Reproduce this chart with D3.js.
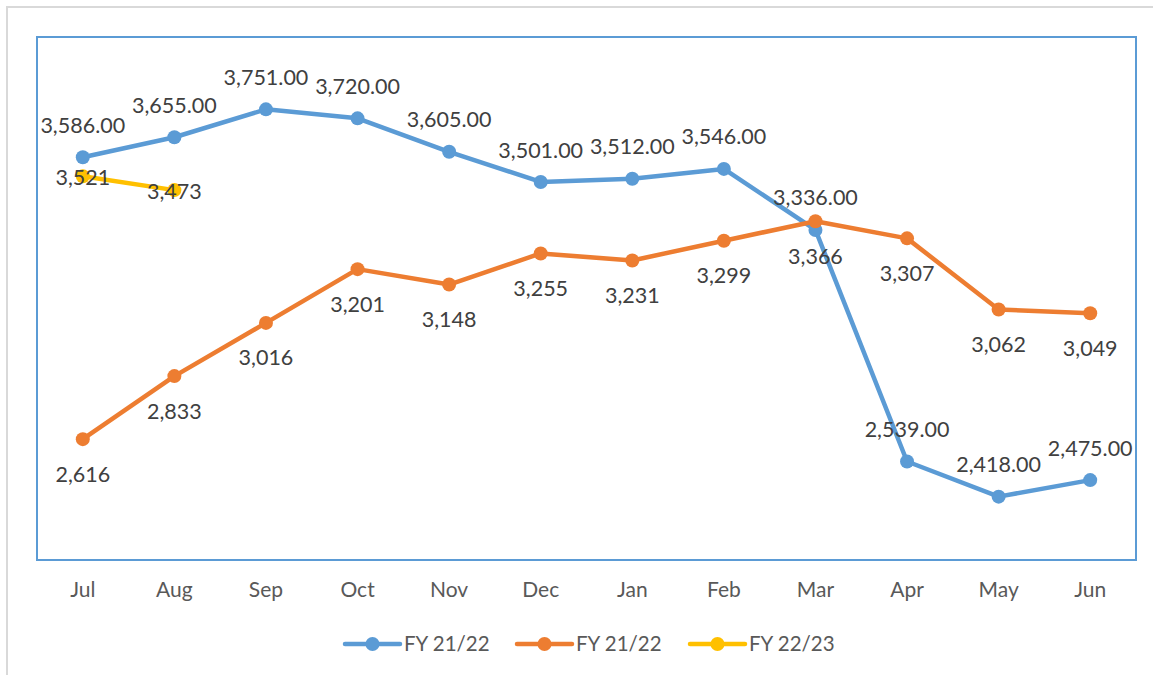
<!DOCTYPE html>
<html>
<head>
<meta charset="utf-8">
<script src="https://cdn.jsdelivr.net/npm/d3@7"></script>
<style>
  body { margin: 0; background: #fff; }
  svg { display: block; font-family: Lato, "Open Sans", sans-serif; }
</style>
</head>
<body>
<div id="chart"></div>
<script>
const months = ["Jul", "Aug", "Sep", "Oct", "Nov", "Dec", "Jan", "Feb", "Mar", "Apr", "May", "Jun"];
const fy2122a = [3586, 3655, 3751, 3720, 3605, 3501, 3512, 3546, 3336, 2539, 2418, 2475];
const fy2122b = [2616, 2833, 3016, 3201, 3148, 3255, 3231, 3299, 3366, 3307, 3062, 3049];
const fy2223 = [3521, 3473];
const seriesNames = ["FY 21/22", "FY 21/22", "FY 22/23"];
const yDomain = [2200, 4000];

const width = 1153, height = 675;
const plot = { left: 37, top: 37, right: 1136, bottom: 560 };

const series = [
    { name: seriesNames[0], values: fy2122a, color: "#5b9bd5", fmt: d3.format(",.2f"), pos: "above" },
    { name: seriesNames[1], values: fy2122b, color: "#ed7d31", fmt: d3.format(",d"), pos: "below" },
    { name: seriesNames[2], values: fy2223, color: "#ffc000", fmt: d3.format(",d"), pos: "center" }
];

const x = d3.scaleBand()
    .domain(months)
    .range([plot.left, plot.right])
    .padding(0);

const y = d3.scaleLinear()
    .domain(yDomain)
    .range([plot.bottom, plot.top]);

const cx = (m) => x(m) + x.bandwidth() / 2;

const svg = d3.select("#chart").append("svg")
    .attr("width", width)
    .attr("height", height);

// chart area frame (runs off the right/bottom edge in the original)
svg.append("rect")
    .attr("x", 7).attr("y", 7)
    .attr("width", width).attr("height", height)
    .attr("fill", "none")
    .attr("stroke", "#d9d9d9")
    .attr("stroke-width", 2);

// plot area border
svg.append("rect")
    .attr("x", plot.left).attr("y", plot.top)
    .attr("width", plot.right - plot.left)
    .attr("height", plot.bottom - plot.top)
    .attr("fill", "none")
    .attr("stroke", "#5b9bd5")
    .attr("stroke-width", 2);

// x axis labels only
const xAxis = d3.axisBottom(x).tickSize(0).tickPadding(22);
const gx = svg.append("g")
    .attr("transform", `translate(0, ${plot.bottom})`)
    .call(xAxis);
gx.select(".domain").remove();
gx.selectAll("text")
    .attr("fill", "#595959")
    .style("font-size", "21px")
    .style("font-family", "Lato, sans-serif");

const line = d3.line()
    .x((d, i) => cx(months[i]))
    .y(d => y(d));

// lines + markers
series.forEach(s => {
    svg.append("path")
        .attr("d", line(s.values))
        .attr("fill", "none")
        .attr("stroke", s.color)
        .attr("stroke-width", 4.5)
        .attr("stroke-linejoin", "round")
        .attr("stroke-linecap", "round");

    svg.append("g").selectAll("circle")
        .data(s.values)
        .join("circle")
        .attr("cx", (d, i) => cx(months[i]))
        .attr("cy", d => y(d))
        .attr("r", 7)
        .attr("fill", s.color);
});

// data labels
series.forEach(s => {
    const off = s.pos === "above" ? -32 : s.pos === "below" ? 35 : 1;
    svg.append("g").selectAll("text")
        .data(s.values)
        .join("text")
        .attr("x", (d, i) => cx(months[i]))
        .attr("y", d => y(d) + off)
        .attr("dy", "0.35em")
        .attr("text-anchor", "middle")
        .attr("fill", "#404040")
        .style("font-size", "21.5px")
        .text(d => s.fmt(d));
});

// legend
const legendX = [345, 517, 690];
const legendY = 644;
const lg = svg.append("g").selectAll("g")
    .data(series)
    .join("g")
    .attr("transform", (d, i) => `translate(${legendX[i]}, ${legendY})`);

lg.append("line")
    .attr("x1", 0).attr("x2", 55)
    .attr("stroke", d => d.color)
    .attr("stroke-width", 4.5)
    .attr("stroke-linecap", "round");

lg.append("circle")
    .attr("cx", 27.5)
    .attr("r", 7)
    .attr("fill", d => d.color);

lg.append("text")
    .attr("x", 59)
    .attr("dy", "0.35em")
    .attr("fill", "#595959")
    .style("font-size", "20.5px")
    .text(d => d.name);
</script>
</body>
</html>
